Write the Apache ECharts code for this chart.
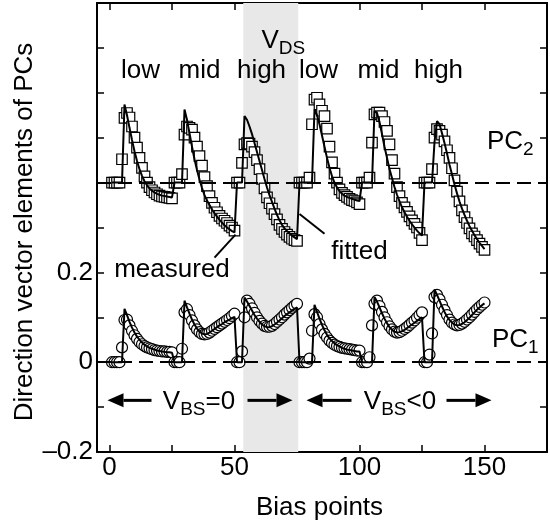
<!DOCTYPE html>
<html><head><meta charset="utf-8">
<script src="https://cdn.jsdelivr.net/npm/echarts@6/dist/echarts.min.js"></script>
<style>html,body{margin:0;padding:0;background:#fff}#c{width:550px;height:526px}</style>
</head><body><div id="c"></div>
<script>
// ---- data ----
const X_MIN = -5, X_MAX = 175, Y_MIN = -0.2, Y_MAX = 0.8;
const X_TICKS = [0, 25, 50, 75, 100, 125, 150];
const X_LABELS = [0, 50, 100, 150];
const Y_LABELS = [-0.2, 0, 0.2];
const PC2_OFFSET = 0.4;
const SHADE = [53.5, 75.5];
const VDS_LABELS = ['low', 'mid', 'high', 'low', 'mid', 'high'];
const VDS_LABEL_X = [12.4, 36, 60.8, 83.6, 107.6, 131.6];

const PC1_MEASURED = [
  0,0,0,0,0.033,0.094,0.095,0.082,0.070,0.060,0.052,0.045,0.040,0.036,0.033,0.031,0.029,0.027,0.026,0.025,0.024,0.024,0.023,0.023,0.022,
  0,0,0,0.030,0.111,0.118,0.105,0.093,0.082,0.073,0.067,0.063,0.062,0.063,0.066,0.070,0.074,0.078,0.082,0.086,0.090,0.094,0.098,0.103,0.108,
  0,0,0.024,0.100,0.137,0.130,0.120,0.110,0.100,0.092,0.086,0.081,0.079,0.079,0.081,0.085,0.090,0.095,0.100,0.106,0.111,0.116,0.121,0.126,0.130,
  0,0,0,0,0.008,0.070,0.107,0.100,0.085,0.073,0.063,0.055,0.048,0.043,0.039,0.036,0.034,0.032,0.031,0.030,0.029,0.028,0.027,0.026,0.026,
  0,0,0,0.011,0.082,0.130,0.137,0.125,0.112,0.100,0.089,0.080,0.073,0.068,0.066,0.067,0.070,0.074,0.078,0.083,0.088,0.093,0.099,0.105,0.111,
  0,0,0.017,0.064,0.145,0.150,0.140,0.128,0.116,0.105,0.095,0.088,0.084,0.082,0.083,0.086,0.090,0.095,0.100,0.106,0.112,0.118,0.123,0.128,0.133
];
const PC1_FITTED = [
  0,0,0,0,0,0.119,0.105,0.090,0.077,0.066,0.057,0.050,0.044,0.039,0.035,0.032,0.030,0.028,0.026,0.025,0.024,0.023,0.022,0.022,0.021,
  0,0,0,0,0.137,0.122,0.108,0.095,0.084,0.075,0.068,0.064,0.062,0.063,0.066,0.070,0.074,0.078,0.082,0.085,0.089,0.092,0.095,0.098,0.101,
  0,0,0,0.144,0.135,0.125,0.115,0.105,0.097,0.090,0.084,0.080,0.078,0.078,0.080,0.084,0.088,0.093,0.098,0.103,0.107,0.111,0.115,0.119,0.122,
  0,0,0,0,0,0,0.128,0.112,0.097,0.083,0.071,0.061,0.053,0.047,0.042,0.038,0.035,0.032,0.030,0.028,0.027,0.026,0.025,0.024,0.024,
  0,0,0,0,0,0.145,0.135,0.122,0.109,0.097,0.087,0.078,0.072,0.068,0.066,0.067,0.069,0.072,0.076,0.080,0.084,0.088,0.092,0.096,0.100,
  0,0,0,0,0.162,0.150,0.137,0.124,0.112,0.102,0.094,0.088,0.084,0.082,0.083,0.085,0.089,0.094,0.099,0.105,0.111,0.117,0.122,0.127,0.131
];
const PC2_MEASURED = [
  0,0,0,0,0.052,0.144,0.155,0.145,0.125,0.100,0.078,0.055,0.033,0.014,0.000,-0.010,-0.017,-0.022,-0.026,-0.029,-0.031,-0.032,-0.033,-0.034,-0.035,
  0,0,0,0.019,0.107,0.125,0.122,0.118,0.100,0.080,0.059,0.038,0.012,-0.008,-0.030,-0.045,-0.056,-0.066,-0.074,-0.080,-0.085,-0.090,-0.096,-0.100,-0.107,
  0,0,0.044,0.085,0.088,0.087,0.080,0.068,0.050,0.030,0.008,-0.013,-0.033,-0.046,-0.058,-0.070,-0.082,-0.094,-0.103,-0.110,-0.116,-0.121,-0.125,-0.128,-0.130,
  0,0,0,0,0.011,0.130,0.185,0.189,0.174,0.160,0.148,0.120,0.080,0.045,0.020,0.000,-0.015,-0.023,-0.028,-0.032,-0.036,-0.039,-0.041,-0.044,-0.048,
  0,0,0,0.011,0.089,0.152,0.156,0.156,0.148,0.135,0.115,0.085,0.050,0.020,-0.010,-0.030,-0.045,-0.055,-0.065,-0.075,-0.084,-0.092,-0.100,-0.112,-0.128,
  0,0,0,0.030,0.100,0.119,0.115,0.107,0.092,0.072,0.055,0.032,0.005,-0.020,-0.042,-0.062,-0.077,-0.090,-0.102,-0.113,-0.120,-0.128,-0.136,-0.143,-0.150
];
const PC2_FITTED = [
  0,0,0,0,0,0.174,0.150,0.122,0.095,0.070,0.048,0.030,0.015,0.003,-0.006,-0.013,-0.018,-0.022,-0.025,-0.027,-0.029,-0.030,-0.031,-0.032,-0.033,
  0,0,0,0,0.163,0.140,0.110,0.080,0.052,0.028,0.007,-0.012,-0.028,-0.040,-0.050,-0.060,-0.068,-0.076,-0.083,-0.089,-0.095,-0.100,-0.104,-0.108,-0.111,
  0,0,0,0.148,0.140,0.125,0.108,0.088,0.068,0.048,0.028,0.008,-0.011,-0.028,-0.043,-0.058,-0.072,-0.084,-0.094,-0.102,-0.108,-0.113,-0.118,-0.122,-0.126,
  0,0,0,0,0,0,0.163,0.150,0.130,0.105,0.080,0.055,0.033,0.014,0.000,-0.011,-0.019,-0.025,-0.029,-0.032,-0.034,-0.036,-0.038,-0.040,-0.041,
  0,0,0,0,0,0.160,0.155,0.135,0.108,0.080,0.055,0.030,0.010,-0.010,-0.027,-0.042,-0.055,-0.066,-0.076,-0.085,-0.093,-0.100,-0.107,-0.113,-0.118,
  0,0,0,0,0.090,0.137,0.130,0.110,0.088,0.065,0.040,0.018,-0.004,-0.024,-0.042,-0.058,-0.072,-0.085,-0.097,-0.107,-0.117,-0.126,-0.134,-0.141,-0.148
];

// ---- build ----
const FONT = '"Liberation Sans", Arial, Helvetica, sans-serif';
const pts = (arr, off) => arr.map((v, i) => [i + 1, v + off]);

const chart = echarts.init(document.getElementById('c'), null, {renderer: 'canvas'});
const axisLine = {show: true, onZero: false, lineStyle: {color: '#000', width: 2}};
const tickStyle = {show: true, inside: true, length: 7, lineStyle: {color: '#000', width: 1.5}};
const yFmt = v => (v < 0 ? '\u2013' + Math.abs(v) : String(v));

chart.setOption({
  animation: false,
  grid: {left: 97, right: 3, top: 3, bottom: 74},
  xAxis: [
    {type: 'value', min: X_MIN, max: X_MAX, position: 'bottom', axisLine,
     axisTick: Object.assign({customValues: X_TICKS}, tickStyle),
     axisLabel: {customValues: X_LABELS, fontSize: 26, fontFamily: FONT, color: '#000', margin: 3},
     splitLine: {show: false}},
    {type: 'value', min: X_MIN, max: X_MAX, position: 'top', axisLine,
     axisTick: Object.assign({customValues: X_TICKS}, tickStyle),
     axisLabel: {show: false}, splitLine: {show: false}}
  ],
  yAxis: [
    {type: 'value', min: Y_MIN, max: Y_MAX, interval: 0.1, position: 'left', axisLine,
     axisTick: tickStyle,
     axisLabel: {customValues: Y_LABELS, formatter: yFmt, fontSize: 26, fontFamily: FONT, color: '#000', margin: 4},
     splitLine: {show: false}},
    {type: 'value', min: Y_MIN, max: Y_MAX, interval: 0.1, position: 'right', axisLine,
     axisTick: tickStyle, axisLabel: {show: false}, splitLine: {show: false}}
  ],
  series: [
    {type: 'line', data: [], z: 1, silent: true,
     markArea: {silent: true, itemStyle: {color: '#e8e8e8'}, data: [[{xAxis: SHADE[0]}, {xAxis: SHADE[1]}]]},
     markLine: {silent: true, symbol: 'none', label: {show: false},
       lineStyle: {color: '#000', width: 2, type: [14, 7]},
       data: [{yAxis: 0}, {yAxis: PC2_OFFSET}]}},
    {type: 'scatter', name: 'PC1 measured', data: pts(PC1_MEASURED, 0), symbol: 'circle', symbolSize: 11, z: 3,
     itemStyle: {color: '#fff', borderColor: '#000', borderWidth: 1.2, opacity: 1}},
    {type: 'scatter', name: 'PC2 measured', data: pts(PC2_MEASURED, PC2_OFFSET), symbol: 'rect', symbolSize: 10.5, z: 3,
     itemStyle: {color: '#fff', borderColor: '#000', borderWidth: 1.2, opacity: 1}},
    {type: 'line', name: 'PC1 fitted', data: pts(PC1_FITTED, 0), showSymbol: false, z: 4,
     lineStyle: {color: '#000', width: 2}},
    {type: 'line', name: 'PC2 fitted', data: pts(PC2_FITTED, PC2_OFFSET), showSymbol: false, z: 4,
     lineStyle: {color: '#000', width: 2}}
  ]
});

// ---- annotations ----
const ctx = document.createElement('canvas').getContext('2d');
function tw(t, fs) { ctx.font = fs + 'px ' + FONT; return ctx.measureText(t).width; }
const px = (x, y) => chart.convertToPixel({gridIndex: 0}, [x, y]);
const els = [];
function txt(t, x, y, fs, align) {
  els.push({type: 'text', z: 100, x: x, y: y,
    style: {text: t, font: fs + 'px ' + FONT, fill: '#000', textAlign: align || 'left', textVerticalAlign: 'middle', align: align || 'left', verticalAlign: 'middle'}});
}
// parts: [text, isSub]
function rich(parts, cx, cy, anchor) {
  const MAIN = 26, SUB = 19, DROP = 8;
  let total = 0; parts.forEach(p => total += tw(p[0], p[1] ? SUB : MAIN));
  let x = anchor === 'left' ? cx : cx - total / 2;
  parts.forEach(p => {
    const fs = p[1] ? SUB : MAIN;
    txt(p[0], x, cy + (p[1] ? DROP : 0), fs, 'left');
    x += tw(p[0], fs);
  });
}
function arrow(x1, x2, y) { // from tail x1 to tip x2
  const a = px(x1, y), b = px(x2, y);
  const dir = Math.sign(b[0] - a[0]);
  const hl = 16, hw = 7;
  els.push({type: 'line', z: 100, shape: {x1: a[0], y1: a[1], x2: b[0] - dir * hl, y2: b[1]}, style: {stroke: '#000', lineWidth: 3}});
  els.push({type: 'polygon', z: 100, shape: {points: [[b[0], b[1]], [b[0] - dir * hl, b[1] - hw], [b[0] - dir * hl, b[1] + hw]]}, style: {fill: '#000'}});
}
function seg(x1, y1, x2, y2) {
  const a = px(x1, y1), b = px(x2, y2);
  els.push({type: 'line', z: 100, shape: {x1: a[0], y1: a[1], x2: b[0], y2: b[1]}, style: {stroke: '#000', lineWidth: 2}});
}

VDS_LABELS.forEach((t, i) => { const p = px(VDS_LABEL_X[i], 0.650); txt(t, p[0], p[1], 26, 'center'); });
let p = px(69.5, 0.716); rich([['V', 0], ['DS', 1]], p[0], p[1], 'center');
p = px(151, 0.49); rich([['PC', 0], ['2', 1]], p[0], p[1], 'left');
p = px(153, 0.05); rich([['PC', 0], ['1', 1]], p[0], p[1], 'left');
p = px(25, 0.206); txt('measured', p[0], p[1], 26, 'center');
p = px(100, 0.246); txt('fitted', p[0], p[1], 26, 'center');
seg(42, 0.233, 50.4, 0.284);
seg(76, 0.330, 86, 0.286);
p = px(35.8, -0.088); rich([['V', 0], ['BS', 1], ['=0', 0]], p[0], p[1], 'center');
p = px(116.2, -0.088); rich([['V', 0], ['BS', 1], ['<0', 0]], p[0], p[1], 'center');
arrow(16.8, -0.8, -0.085); arrow(55.2, 73.2, -0.085);
arrow(96.8, 78.8, -0.085); arrow(134.8, 152.8, -0.085);
// axis titles
p = px(84, Y_MIN); txt('Bias points', p[0], p[1] + 56, 26, 'center');
els.push({type: 'text', z: 100, x: 25, y: 232, rotation: Math.PI / 2,
  style: {text: 'Direction vector elements of PCs', font: '26px ' + FONT, fill: '#000', textAlign: 'center', textVerticalAlign: 'middle', align: 'center', verticalAlign: 'middle'}});

chart.setOption({graphic: {elements: els}});
</script></body></html>
